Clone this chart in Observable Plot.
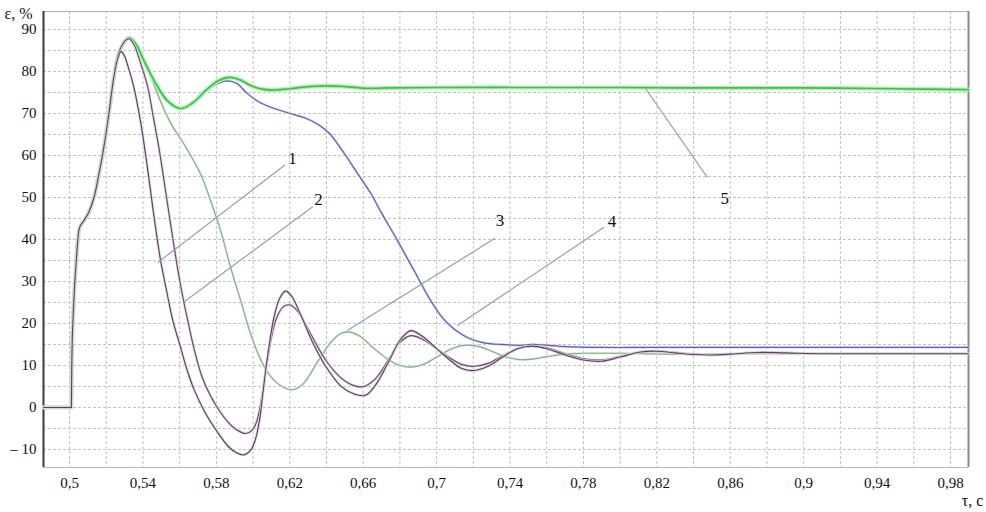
<!DOCTYPE html>
<html>
<head>
<meta charset="utf-8">
<script src="https://cdn.jsdelivr.net/npm/d3@7"></script>
<script src="https://cdn.jsdelivr.net/npm/@observablehq/plot@0.6"></script>
<style>
  html, body { margin: 0; padding: 0; background: #ffffff; }
  #chart svg { display: block; }
  #chart svg text { font-family: "Liberation Serif", "Times New Roman", Times, "DejaVu Serif", serif !important; }
</style>
</head>
<body>
<div id="chart"></div>
<script>
// ---- axes / ticks ----
const xDomain = [0.4858, 0.9898];
const yDomain = [-14.3, 94.3];
const xTicks = [0.5, 0.54, 0.58, 0.62, 0.66, 0.7, 0.74, 0.78, 0.82, 0.86, 0.9, 0.94, 0.98];
const xTickLabels = ["0,5", "0,54", "0,58", "0,62", "0,66", "0,7", "0,74", "0,78", "0,82", "0,86", "0,9", "0,94", "0,98"];
const yTicks = [-10, 0, 10, 20, 30, 40, 50, 60, 70, 80, 90];
const yTickLabels = ["– 10", "0", "10", "20", "30", "40", "50", "60", "70", "80", "90"];
const xGrid = [0.5, 0.52, 0.54, 0.56, 0.58, 0.6, 0.62, 0.64, 0.66, 0.68, 0.7, 0.72, 0.74, 0.76, 0.78, 0.8, 0.82, 0.84, 0.86, 0.88, 0.9, 0.92, 0.94, 0.96, 0.98];
const yGrid = [-10, -5, 0, 5, 10, 15, 20, 25, 30, 35, 40, 45, 50, 55, 60, 65, 70, 75, 80, 85, 90];
const yAxisTitle = "ε, %";
const xAxisTitle = "τ, с";

// ---- series: [time τ (s), ε (%)] ----
const curve1 = [[0.4858,0],[0.501,0],[0.5012,10],[0.5015,17],[0.5025,27],[0.5035,34],[0.5045,39.8],[0.5055,42.9],[0.5078,44.5],[0.5105,46.5],[0.5133,50],[0.516,55.6],[0.5187,62],[0.5214,69.9],[0.5241,78.6],[0.5262,83],[0.528,84.8],[0.5298,83.8],[0.532,81],[0.5349,76.5],[0.5387,68],[0.5415,60],[0.544,52],[0.5468,43],[0.5496,35],[0.553,27.5],[0.5561,21],[0.5605,14.3],[0.564,9],[0.5678,4.3],[0.574,-1.3],[0.5805,-5.8],[0.5865,-9.3],[0.591,-10.8],[0.595,-11.3],[0.5985,-10.3],[0.601,-8],[0.6035,-3],[0.6055,4],[0.6075,11],[0.6114,21.5],[0.6145,26],[0.6177,27.7],[0.621,26.5],[0.626,22],[0.633,15],[0.64,9.5],[0.648,5],[0.655,3.2],[0.6613,2.9],[0.667,5.5],[0.674,11],[0.68,16],[0.6859,18.3],[0.692,17],[0.7,14],[0.708,11],[0.714,9.2],[0.7204,8.8],[0.728,9.8],[0.736,12],[0.744,14],[0.752,14.6],[0.76,14],[0.77,12.5],[0.78,11.3],[0.79,11],[0.8,12],[0.811,13.2],[0.82,13.4],[0.83,13],[0.84,12.6],[0.85,12.5],[0.86,12.7],[0.875,13.1],[0.89,13],[0.91,12.8],[0.94,12.8],[0.97,12.8],[0.9898,12.8]];
const curve2 = [[0.4858,0],[0.501,0],[0.5012,10],[0.5015,17],[0.5025,27],[0.5035,34],[0.5045,39.8],[0.5055,42.9],[0.5078,44.5],[0.5105,46.5],[0.5133,50],[0.516,55.6],[0.5187,62],[0.5214,69.9],[0.5241,78.6],[0.5269,84.6],[0.5305,87.4],[0.5323,87.8],[0.535,86.5],[0.5387,82],[0.5425,76.5],[0.5455,69.5],[0.549,61],[0.5525,51],[0.556,41],[0.5595,31.5],[0.5623,25],[0.5655,18.5],[0.5678,14],[0.572,7.5],[0.5765,3],[0.5805,0],[0.586,-3.3],[0.591,-5.3],[0.596,-6.2],[0.5995,-5.4],[0.602,-3.3],[0.6045,1.8],[0.6077,11],[0.6123,20.7],[0.6165,24],[0.6204,24.4],[0.625,22.5],[0.632,17],[0.64,11],[0.648,7],[0.655,5.2],[0.6604,5],[0.667,7],[0.674,11.5],[0.68,15.5],[0.686,17.1],[0.692,16.3],[0.7,14],[0.708,11.6],[0.714,10.2],[0.7204,9.8],[0.728,10.5],[0.736,12.3],[0.744,14],[0.752,14.6],[0.76,14.2],[0.77,12.8],[0.78,11.6],[0.79,11.3],[0.8,12.2],[0.811,13.2],[0.82,13.4],[0.83,13.1],[0.84,12.7],[0.85,12.5],[0.86,12.7],[0.875,13],[0.89,13],[0.91,12.8],[0.94,12.8],[0.97,12.8],[0.9898,12.8]];
const curve3 = [[0.4858,0],[0.501,0],[0.5012,10],[0.5015,17],[0.5025,27],[0.5035,34],[0.5045,39.8],[0.5055,42.9],[0.5078,44.5],[0.5105,46.5],[0.5133,50],[0.516,55.6],[0.5187,62],[0.5214,69.9],[0.5241,78.6],[0.5269,84.6],[0.5305,87.4],[0.5323,88],[0.536,86.6],[0.5405,82.6],[0.5445,78.5],[0.548,74.6],[0.552,70.5],[0.556,67],[0.5605,64],[0.566,60],[0.5714,55.6],[0.5768,49.3],[0.5823,42.1],[0.5877,33.4],[0.5932,25.5],[0.5986,17.6],[0.603,12.5],[0.6077,8.5],[0.614,5.5],[0.6209,4.2],[0.627,5.5],[0.635,10.8],[0.642,15.3],[0.6477,17.6],[0.652,18],[0.658,17],[0.666,14],[0.674,11.3],[0.68,10],[0.686,9.6],[0.693,10.3],[0.7,12],[0.708,13.9],[0.715,14.8],[0.722,14.6],[0.73,13.4],[0.738,12],[0.745,11.4],[0.752,11.5],[0.76,12.1],[0.77,12.7],[0.78,12.9],[0.8,12.9],[0.83,12.7],[0.86,12.8],[0.9,12.8],[0.9898,12.8]];
const curve4 = [[0.4858,0],[0.501,0],[0.5012,10],[0.5015,17],[0.5025,27],[0.5035,34],[0.5045,39.8],[0.5055,42.9],[0.5078,44.5],[0.5105,46.5],[0.5133,50],[0.516,55.6],[0.5187,62],[0.5214,69.9],[0.5241,78.6],[0.5269,84.6],[0.5305,87.4],[0.5323,88],[0.536,86.6],[0.5405,82.6],[0.546,77.9],[0.5532,73.1],[0.5605,71.2],[0.567,72.5],[0.575,75.5],[0.581,77.2],[0.586,77.8],[0.591,77.2],[0.5968,74.8],[0.603,72.8],[0.6096,71.5],[0.6204,70],[0.628,69],[0.635,67.5],[0.6415,65.3],[0.6465,62.5],[0.652,59],[0.6568,55.8],[0.6641,51],[0.6695,46.7],[0.6786,39.8],[0.6877,32.6],[0.6967,25.5],[0.7035,21.2],[0.71,18.5],[0.7175,16.5],[0.7258,15.4],[0.735,15],[0.745,14.8],[0.752,15],[0.758,14.9],[0.77,14.5],[0.79,14.3],[0.82,14.3],[0.9898,14.3]];
const curve5 = [[0.4858,0],[0.501,0],[0.5012,10],[0.5015,17],[0.5025,27],[0.5035,34],[0.5045,39.8],[0.5055,42.9],[0.5078,44.5],[0.5105,46.5],[0.5133,50],[0.516,55.6],[0.5187,62],[0.5214,69.9],[0.5241,78.6],[0.5269,84.6],[0.5305,87.4],[0.5323,88],[0.536,86.6],[0.5405,82.6],[0.546,77.9],[0.5532,73.1],[0.5605,71.2],[0.567,72.5],[0.575,75.8],[0.581,77.8],[0.587,78.6],[0.593,78],[0.599,76.6],[0.605,75.8],[0.612,75.6],[0.62,75.9],[0.63,76.4],[0.64,76.6],[0.65,76.4],[0.662,76],[0.675,76.1],[0.7,76.2],[0.75,76.2],[0.8,76.2],[0.85,76.1],[0.9,76.1],[0.95,75.9],[0.9898,75.7]];

// ---- curve labels and leader lines ----
const labelNames = ["1", "2", "3", "4", "5"];
const labelT = [0.6215, 0.6357, 0.7345, 0.7955, 0.857];
const labelE = [59.3, 49.6, 44.5, 44.2, 49.8];
const leaderT1 = [0.548, 0.5623, 0.6513, 0.7113, 0.8139];
const leaderE1 = [34.5, 25.1, 18.3, 19.5, 75.9];
const leaderT2 = [0.6175, 0.6325, 0.7318, 0.7912, 0.8475];
const leaderE2 = [57.8, 47.8, 40.3, 42.9, 54.8];

const X = d => d[0], Y = d => d[1];
const xLabelMap = new Map(xTicks.map((t, i) => [t, xTickLabels[i]]));
const yLabelMap = new Map(yTicks.map((t, i) => [t, yTickLabels[i]]));
const idx = labelNames.map((_, i) => i);
const serif = "Liberation Serif, Times New Roman, Times, DejaVu Serif, serif";
const stepEnd = 0.5015;

// step part drawn straight, the rest smoothed
function curveMarks(data, halo, haloW, core, coreW) {
  const step = data.filter(d => d[0] <= stepEnd);
  const rest = data.filter(d => d[0] >= stepEnd);
  return [
    Plot.line(step, { x: X, y: Y, curve: "linear", stroke: halo, strokeWidth: haloW }),
    Plot.line(rest, { x: X, y: Y, curve: "catmull-rom", stroke: halo, strokeWidth: haloW }),
    Plot.line(step, { x: X, y: Y, curve: "linear", stroke: core, strokeWidth: coreW }),
    Plot.line(rest, { x: X, y: Y, curve: "catmull-rom", stroke: core, strokeWidth: coreW })
  ];
}

const chart = Plot.plot({
  width: 986,
  height: 512,
  marginLeft: 43,
  marginRight: 18,
  marginTop: 11,
  marginBottom: 45,
  x: { domain: xDomain },
  y: { domain: yDomain },
  style: { fontFamily: serif, fontSize: "15px", background: "#ffffff", color: "#222" },
  marks: [
    // grid
    Plot.ruleX(xGrid, { stroke: "#c2c2c2", strokeWidth: 1, strokeDasharray: "3,2" }),
    Plot.ruleY(yGrid, { stroke: "#c2c2c2", strokeWidth: 1, strokeDasharray: "3,2" }),
    // borders
    Plot.ruleY([yDomain[1]], { stroke: "#b0b0b0", strokeWidth: 1 }),
    Plot.ruleY([yDomain[0]], { stroke: "#b8b8b8", strokeWidth: 1 }),
    Plot.ruleX([xDomain[1]], { stroke: "#8a8a8a", strokeWidth: 2 }),
    Plot.ruleX([xDomain[0]], { stroke: "#3a3a3a", strokeWidth: 2 }),
    // axes
    Plot.axisX(xTicks, { tickSize: 0, tickPadding: 10, tickFormat: d => xLabelMap.get(d), fontSize: 15, fontFamily: serif, fill: "#111" }),
    Plot.axisY(yTicks, { tickSize: 0, tickPadding: 7, tickFormat: d => yLabelMap.get(d), fontSize: 15, fontFamily: serif, fill: "#111" }),
    // curves
    ...curveMarks(curve3, "#dcecdc", 2.4, "#86ac86", 1.1),
    ...curveMarks(curve4, "#d8d8f2", 2.4, "#6060bb", 1.2),
    ...curveMarks(curve5, "#b2f0b2", 4.2, "#34c844", 1.7),
    ...curveMarks(curve2, "#e4d0e4", 2.6, "#5e4c64", 1.1),
    ...curveMarks(curve1, "#e4d0e4", 2.6, "#54445a", 1.1),
    // leader lines
    Plot.link(idx, {
      x1: i => leaderT1[i], y1: i => leaderE1[i],
      x2: i => leaderT2[i], y2: i => leaderE2[i],
      stroke: "#8fa0b8", strokeWidth: 1.2
    }),
    // curve labels
    Plot.text(idx, {
      x: i => labelT[i], y: i => labelE[i], text: i => labelNames[i],
      fontSize: 17, fontFamily: serif, fill: "#111", textAnchor: "middle", lineAnchor: "middle"
    }),
    // axis titles
    Plot.text([yAxisTitle], { frameAnchor: "top-left", text: d => d, dx: -25, dy: 2, fontSize: 16, fontFamily: serif, fill: "#111", textAnchor: "middle", lineAnchor: "middle" }),
    Plot.text([xAxisTitle], { frameAnchor: "bottom-right", text: d => d, dx: 4, dy: 33, fontSize: 16, fontFamily: serif, fill: "#111", textAnchor: "middle", lineAnchor: "middle" })
  ]
});

document.getElementById("chart").appendChild(chart);
</script>
</body>
</html>
